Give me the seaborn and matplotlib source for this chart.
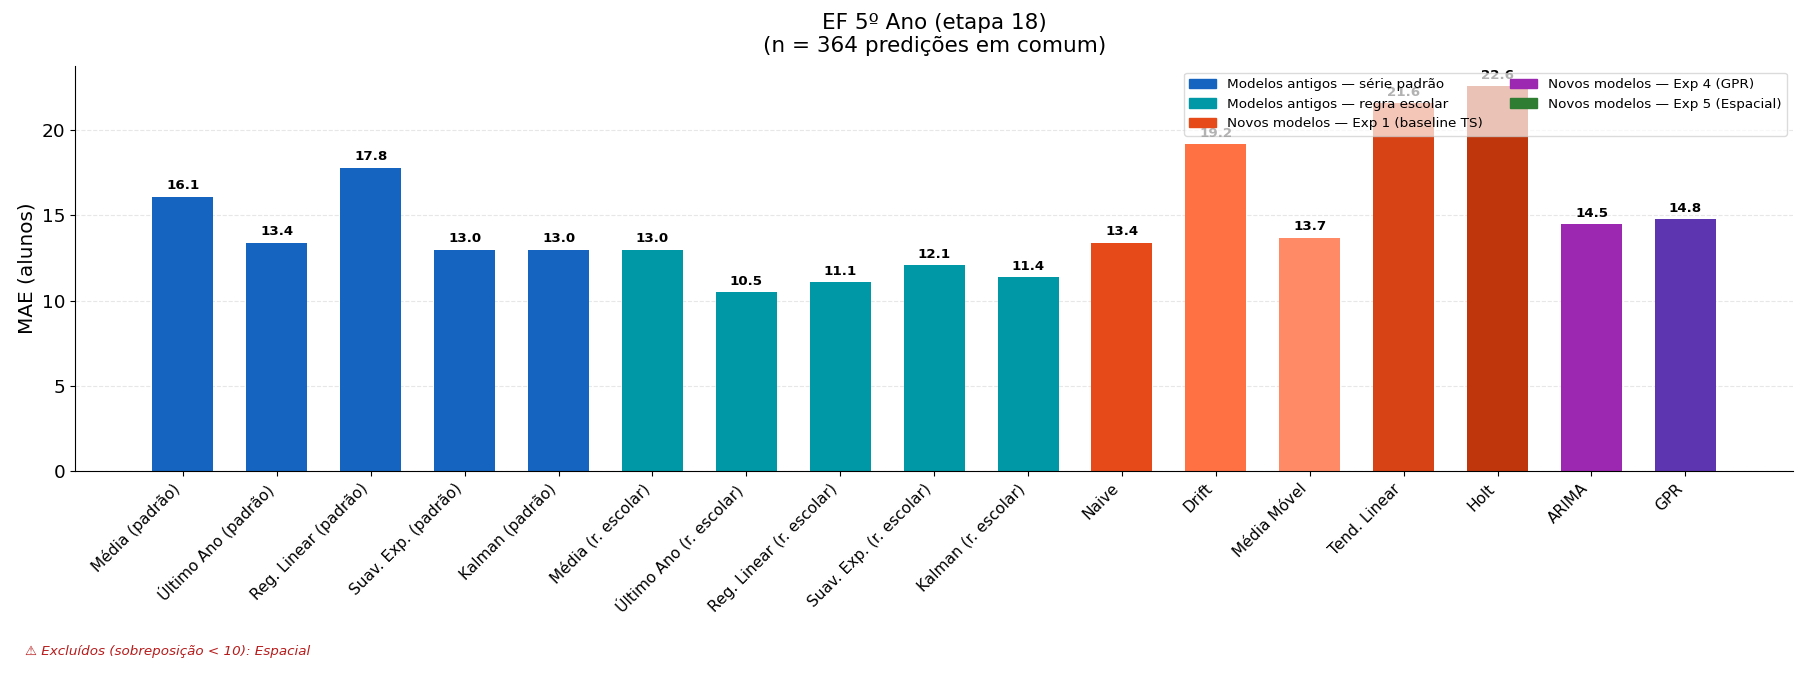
import pandas as pd
import seaborn as sns
import matplotlib.pyplot as plt
from matplotlib.patches import Patch

models = ["Média (padrão)", "Último Ano (padrão)", "Reg. Linear (padrão)", "Suav. Exp. (padrão)",
          "Kalman (padrão)", "Média (r. escolar)", "Último Ano (r. escolar)", "Reg. Linear (r. escolar)",
          "Suav. Exp. (r. escolar)", "Kalman (r. escolar)", "Naive", "Drift", "Média Móvel",
          "Tend. Linear", "Holt", "ARIMA", "GPR"]
mae = [16.1, 13.4, 17.8, 13.0, 13.0, 13.0, 10.5, 11.1, 12.1, 11.4,
       13.4, 19.2, 13.7, 21.6, 22.6, 14.5, 14.8]
colors = ["#1565C0"] * 5 + ["#0097A7"] * 5 + \
         ["#E64A19", "#FF7043", "#FF8A65", "#D84315", "#BF360C", "#9C27B0", "#5E35B1"]

legend_labels = ["Modelos antigos — série padrão", "Modelos antigos — regra escolar",
                 "Novos modelos — Exp 1 (baseline TS)", "Novos modelos — Exp 4 (GPR)",
                 "Novos modelos — Exp 5 (Espacial)"]
legend_colors = ["#1565C0", "#0097A7", "#E64A19", "#9C27B0", "#2E7D32"]

df = pd.DataFrame({"Modelo": models, "MAE": mae})

fig, ax = plt.subplots(figsize=(18.06, 6.79), dpi=100)
sns.barplot(data=df, x="Modelo", y="MAE", hue="Modelo", palette=colors,
            width=0.65, legend=False, ax=ax, saturation=1)

for i, v in enumerate(mae):
    ax.text(i, v + 0.25, f"{v:.1f}", ha="center", va="bottom", fontsize=9.6, fontweight="bold")

ax.set_xlim(-1.15, len(models) - 1 + 1.15)
ax.set_ylim(0, max(mae) * 1.052)
ax.set_xlabel("")
ax.set_ylabel("MAE (alunos)", fontsize=14.4)
ax.set_title("EF 5º Ano (etapa 18)\n(n = 364 predições em comum)", fontsize=15.5, pad=10)
ax.set_xticks(range(len(models)))
ax.set_xticklabels(models, rotation=45, ha="right", fontsize=11.1)
ax.tick_params(axis="y", labelsize=13.3)
ax.yaxis.grid(True, linestyle="--", alpha=0.3)
ax.set_axisbelow(True)
sns.despine(ax=ax)

handles = [Patch(color=c, label=l) for c, l in zip(legend_colors, legend_labels)]
ax.legend(handles=handles, loc="upper right", ncol=2, fontsize=9.7, framealpha=0.7)

fig.text(0.014, 0.035, "⚠ Excluídos (sobreposição < 10): Espacial", color="#B71C1C",
         fontsize=9.7, style="italic")

plt.subplots_adjust(left=0.0415, right=0.993, top=0.903, bottom=0.306)
plt.savefig("out.png", dpi=100)
